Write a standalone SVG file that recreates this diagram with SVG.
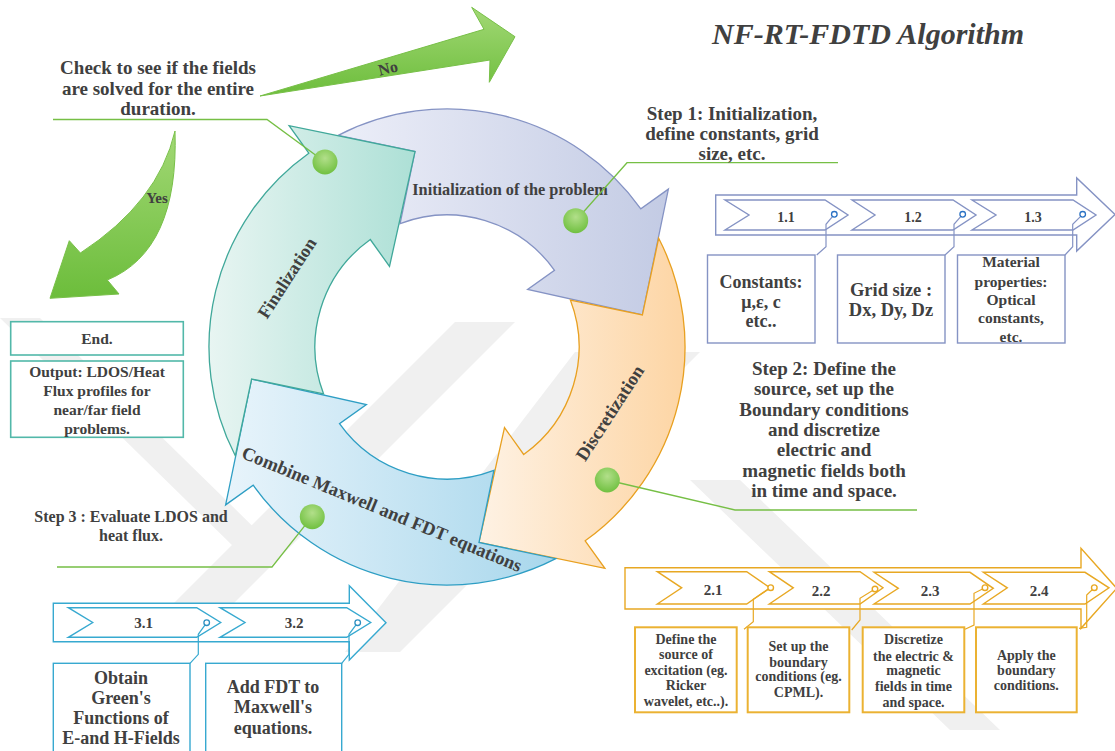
<svg xmlns="http://www.w3.org/2000/svg" width="1115" height="751" viewBox="0 0 1115 751">
<defs>
<style>
text{font-family:"Liberation Serif","Times New Roman",serif;font-weight:bold;fill:#404040;text-anchor:middle}
.wm{fill:#f0f0f0}
.lead{fill:none;stroke:#76bf45;stroke-width:1.3}
.s1{fill:#fff;stroke:#8593c4;stroke-width:1.4}
.s1l{fill:none;stroke:#8593c4;stroke-width:1.2}
.s1c{fill:#fff;stroke:#2b72c4;stroke-width:1.3}
.s2{fill:#fff;stroke:#e8a823;stroke-width:1.4}
.s2b{fill:#fff;stroke:#ebb232;stroke-width:2}
.s2l{fill:none;stroke:#e8a823;stroke-width:1.2}
.s3{fill:#fff;stroke:#37a9d0;stroke-width:1.4}
.s3l{fill:none;stroke:#37a9d0;stroke-width:1.2}
.s3c{fill:#fff;stroke:#2c8fc0;stroke-width:1.3}
.endb{fill:#fff;stroke:#52b8a9;stroke-width:1.6}
.dot{fill:url(#gdot)}
</style>
<linearGradient id="gp" x1="0" y1="0" x2="1" y2="0"><stop offset="0" stop-color="#eceef8"/><stop offset="1" stop-color="#c3cbe4"/></linearGradient>
<linearGradient id="gt" x1="0" y1="0" x2="1" y2="0"><stop offset="0" stop-color="#e8f5f2"/><stop offset="1" stop-color="#ade0d6"/></linearGradient>
<linearGradient id="go" x1="0" y1="0" x2="1" y2="0"><stop offset="0" stop-color="#fef2e4"/><stop offset="1" stop-color="#fdd5a4"/></linearGradient>
<linearGradient id="gb" x1="0" y1="0" x2="1" y2="0"><stop offset="0" stop-color="#e8f4fb"/><stop offset="1" stop-color="#a8d7ec"/></linearGradient>
<linearGradient id="gg" x1="0" y1="0" x2="0" y2="1"><stop offset="0" stop-color="#a2d875"/><stop offset="1" stop-color="#6cbd3b"/></linearGradient>
<radialGradient id="gdot" cx="0.5" cy="0.35" r="0.65"><stop offset="0" stop-color="#b2df8a"/><stop offset="1" stop-color="#70c040"/></radialGradient>
</defs>

<g id="watermark">
<polygon class="wm" points="0,318 40,318 275,548 235,548"/>
<polygon class="wm" points="455,322 515,322 215,622 155,622"/>
<polygon class="wm" points="575,352 700,352 400,652 345,652"/>
<polygon class="wm" points="690,480 740,480 1000,730 950,730"/>
</g>

<g id="title"><text x="868" y="44" font-size="30" font-style="italic">NF-RT-FDTD Algorithm</text></g>

<g id="cycle">
<path id="arrow-init" d="M338.2,135.3 A238,238 0 0 1 640.8,208.8 L668.4,189.1 L642.4,315 L527.6,289.5 L554.5,270.3 A132,132 0 0 0 400.1,223.6 L415,151.6 Z" fill="url(#gp)" stroke="#8593c4" stroke-width="1.3"/>
<path id="arrow-disc" d="M658.7,238.2 A238,238 0 0 1 585.2,540.8 L604.9,568.4 L479,542.4 L504.5,427.6 L523.7,454.5 A132,132 0 0 0 570.4,300.1 L642.4,315 Z" fill="url(#go)" stroke="#e8a020" stroke-width="1.3"/>
<path id="arrow-comb" d="M555.8,558.7 A238,238 0 0 1 253.2,485.2 L225.6,504.9 L251.6,379 L366.4,404.5 L339.5,423.7 A132,132 0 0 0 493.9,470.4 L479,542.4 Z" fill="url(#gb)" stroke="#2e9ec4" stroke-width="1.3"/>
<path id="arrow-fin" d="M235.3,455.8 A238,238 0 0 1 308.8,153.2 L289.1,125.6 L415,151.6 L389.5,266.4 L370.3,239.5 A132,132 0 0 0 323.6,393.9 L251.6,379 Z" fill="url(#gt)" stroke="#40a89a" stroke-width="1.3"/>
<text x="510" y="195" font-size="16.3">Initialization of the problem</text>
<text transform="translate(287,278) rotate(-57)" y="6" font-size="18">Finalization</text>
<text transform="translate(610,413) rotate(-57)" y="6" font-size="18.5">Discretization</text>
<text transform="translate(382,509) rotate(22.4)" y="6.3" font-size="18.5">Combine Maxwell and FDT equations</text>
</g>

<g id="connectors">
<polyline class="lead" points="53,119.5 267,119.5 325,162"/>
<polyline class="lead" points="838,162.7 627,162.7 575.7,220.7"/>
<polyline class="lead" points="917,510 735,510 607,480"/>
<polyline class="lead" points="57,567 272,567 312,516.7"/>
<path d="M260,96 L484,29.3 L471.7,7.3 L515,36.7 L489.3,82.3 L490,60 Z" fill="url(#gg)" stroke="#78c048" stroke-width="1"/>
<path d="M175,131 Q158.5,202 80.4,253 L69.3,240.7 L50,298.3 L119,294 L107.3,280 Q179,250.5 175,131 Z" fill="url(#gg)" stroke="#78c048" stroke-width="1"/>
<text transform="translate(388,68) rotate(-14)" y="5.5" font-size="16">No</text>
<text x="157" y="203" font-size="15">Yes</text>
</g>

<g id="dots">
<circle class="dot" cx="325" cy="162" r="12.5"/>
<circle class="dot" cx="575.7" cy="220.7" r="12.5"/>
<circle class="dot" cx="607.3" cy="480" r="12.5"/>
<circle class="dot" cx="312.3" cy="516.7" r="12.5"/>
</g>

<g id="check-note">
<text x="158" y="74" font-size="19">Check to see if the fields</text>
<text x="158" y="94.5" font-size="19">are solved for the entire</text>
<text x="158" y="115" font-size="19">duration.</text>
</g>

<g id="step1-note">
<text x="732" y="119.5" font-size="19">Step 1: Initialization,</text>
<text x="732" y="139.5" font-size="19">define constants, grid</text>
<text x="732" y="159.5" font-size="19">size, etc.</text>
</g>

<g id="step1">
<path class="s1" d="M715.7,195 H1076.7 V178 L1115,214.5 L1076.7,251 V235 H715.7 Z"/>
<path class="s1" d="M725,200 H825 L848,215 L825,230 H725 L749,215 Z"/>
<path class="s1" d="M852,200 H953 L976,215 L953,230 H852 L875,215 Z"/>
<path class="s1" d="M972,200 H1073 L1096,215 L1073,230 H972 L996,215 Z"/>
<text x="786" y="222" font-size="14">1.1</text>
<text x="913" y="222" font-size="14">1.2</text>
<text x="1033" y="222" font-size="14">1.3</text>
<path class="s1l" d="M834.3,214.3 L826,224.3 V246.7 L816.7,255"/>
<path class="s1l" d="M962.7,214.3 L954,224.3 V246.7 L945,255"/>
<path class="s1l" d="M1082.7,214.3 L1072.7,224.3 V246.7 L1065,255"/>
<circle class="s1c" cx="834.3" cy="214.3" r="2.8"/>
<circle class="s1c" cx="962.7" cy="214.3" r="2.8"/>
<circle class="s1c" cx="1082.7" cy="214.3" r="2.8"/>
</g>
<g id="box1-1">
<rect class="s1" x="707.5" y="255" width="107.5" height="88"/>
<text x="761" y="288" font-size="18">Constants:</text>
<text x="761" y="307.5" font-size="18">μ,ε, c</text>
<text x="761" y="327" font-size="18">etc..</text>
</g>
<g id="box1-2">
<rect class="s1" x="837.5" y="255" width="107.5" height="88"/>
<text x="891" y="296" font-size="18.5">Grid size :</text>
<text x="891" y="316" font-size="18.5">Dx, Dy, Dz</text>
</g>
<g id="box1-3">
<rect class="s1" x="957.5" y="255" width="107.5" height="88"/>
<text x="1011" y="267" font-size="15.5">Material</text>
<text x="1011" y="287" font-size="15.5">properties:</text>
<text x="1011" y="304.5" font-size="15.5">Optical</text>
<text x="1011" y="323" font-size="15.5">constants,</text>
<text x="1011" y="342" font-size="15.5">etc.</text>
</g>

<g id="step2-note">
<text x="824" y="374.5" font-size="19">Step 2: Define the</text>
<text x="824" y="395" font-size="19">source, set up the</text>
<text x="824" y="415.5" font-size="19">Boundary conditions</text>
<text x="824" y="435.5" font-size="19">and discretize</text>
<text x="824" y="456" font-size="19">electric and</text>
<text x="824" y="476.5" font-size="19">magnetic fields both</text>
<text x="824" y="497" font-size="19">in time and space.</text>
</g>

<g id="step2">
<path class="s2" d="M625,567.7 H1081 V548.3 L1116.7,588.3 L1081,628.3 V609 H625 Z"/>
<path class="s2" d="M657.3,571.7 H746.7 L770,587.8 L746.7,604 H657.3 L681.7,587.8 Z"/>
<path class="s2" d="M769.3,571.7 H860 L883,587.8 L860,604 H769.3 L793.3,587.8 Z"/>
<path class="s2" d="M874,572.3 H970 L993.3,588.3 L970,604 H874 L898.3,588.3 Z"/>
<path class="s2" d="M983.3,572.3 H1085 L1109,587.8 L1085,604 H983.3 L1007.3,587.8 Z"/>
<text x="713" y="595" font-size="15">2.1</text>
<text x="821" y="595.5" font-size="15">2.2</text>
<text x="930" y="595.5" font-size="15">2.3</text>
<text x="1039" y="595.5" font-size="15">2.4</text>
<path class="s2l" d="M770.7,587.7 L753.3,599.3 V621.7 L744,629.3"/>
<path class="s2l" d="M875,589 L860,598.3 V620 L851.7,630"/>
<path class="s2l" d="M985,587.7 L974,593.3 V625 L965,629.3"/>
<path class="s2l" d="M1094.3,587.7 L1086.7,595 V627.3 L1079,628.3"/>
<circle class="s2" cx="770.7" cy="587.7" r="2.8"/>
<circle class="s2" cx="875" cy="589" r="2.8"/>
<circle class="s2" cx="985" cy="587.7" r="2.8"/>
<circle class="s2" cx="1094.3" cy="587.7" r="2.8"/>
</g>
<g id="box2-1">
<rect class="s2b" x="635" y="627.3" width="101.7" height="85"/>
<text x="686" y="643.6" font-size="14">Define the</text>
<text x="686" y="659" font-size="14">source of</text>
<text x="686" y="674.6" font-size="14">excitation (eg.</text>
<text x="686" y="689.6" font-size="14">Ricker</text>
<text x="686" y="706.3" font-size="14">wavelet, etc..).</text>
</g>
<g id="box2-2">
<rect class="s2b" x="747.7" y="627.3" width="101.6" height="85"/>
<text x="798.5" y="650.6" font-size="14">Set up the</text>
<text x="798.5" y="666.6" font-size="14">boundary</text>
<text x="798.5" y="681.3" font-size="14">conditions (eg.</text>
<text x="798.5" y="697.3" font-size="14">CPML).</text>
</g>
<g id="box2-3">
<rect class="s2b" x="862.7" y="627.3" width="101.6" height="85"/>
<text x="913.5" y="644" font-size="14">Discretize</text>
<text x="913.5" y="660.6" font-size="14">the electric &amp;</text>
<text x="913.5" y="675.3" font-size="14">magnetic</text>
<text x="913.5" y="690.6" font-size="14">fields in time</text>
<text x="913.5" y="707" font-size="14">and space.</text>
</g>
<g id="box2-4">
<rect class="s2b" x="976" y="627.3" width="100.7" height="85"/>
<text x="1026.3" y="659.6" font-size="14">Apply the</text>
<text x="1026.3" y="674.6" font-size="14">boundary</text>
<text x="1026.3" y="690.3" font-size="14">conditions.</text>
</g>

<g id="end-box">
<rect class="endb" x="10.7" y="321.7" width="172.6" height="33.3"/>
<text x="97" y="343.5" font-size="15.5">End.</text>
</g>
<g id="output-box">
<rect class="endb" x="10.7" y="361" width="172.6" height="76.3"/>
<text x="97" y="377" font-size="15.5">Output: LDOS/Heat</text>
<text x="97" y="395.5" font-size="15.5">Flux profiles for</text>
<text x="97" y="414.5" font-size="15.5">near/far field</text>
<text x="97" y="433.5" font-size="15.5">problems.</text>
</g>

<g id="step3-note">
<text x="131" y="522" font-size="16">Step 3 : Evaluate LDOS and</text>
<text x="131" y="541" font-size="16">heat flux.</text>
</g>

<g id="step3">
<path class="s3" d="M53.3,603.3 H349.3 V585.7 L386,622.7 L349.3,660 V641.7 H53.3 Z"/>
<path class="s3" d="M68.3,607.7 H196.7 L220.7,622.5 L196.7,637.3 H68.3 L92.7,622.5 Z"/>
<path class="s3" d="M220,607.7 H346.7 L370.7,622.5 L346.7,637.3 H220 L245,622.5 Z"/>
<text x="143.5" y="628" font-size="15">3.1</text>
<text x="294" y="628" font-size="15">3.2</text>
<path class="s3l" d="M206.7,622.7 L198.3,634.3 V654.3 L190,663.3"/>
<path class="s3l" d="M357.7,622.7 L349,634.3 V654.3 L341.7,663.3"/>
<circle class="s3c" cx="206.7" cy="622.7" r="2.8"/>
<circle class="s3c" cx="357.7" cy="622.7" r="2.8"/>
</g>
<g id="box3-1">
<rect class="s3" x="53.3" y="663.3" width="136.7" height="100"/>
<text x="121" y="683.7" font-size="18">Obtain</text>
<text x="121" y="703.7" font-size="18">Green's</text>
<text x="121" y="724.3" font-size="18">Functions of</text>
<text x="121" y="744.3" font-size="18">E-and H-Fields</text>
</g>
<g id="box3-2">
<rect class="s3" x="205.7" y="663.3" width="136" height="100"/>
<text x="273" y="692.7" font-size="18">Add FDT to</text>
<text x="273" y="712.7" font-size="18">Maxwell's</text>
<text x="273" y="733.7" font-size="18">equations.</text>
</g>
</svg>
